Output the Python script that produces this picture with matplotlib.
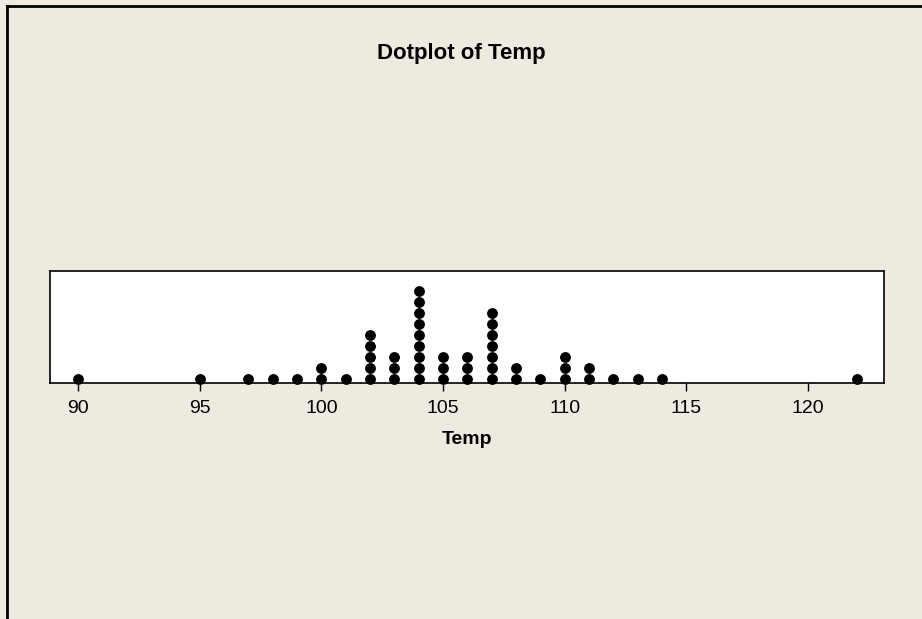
import matplotlib
matplotlib.use("Agg")
import matplotlib.pyplot as plt
from matplotlib.lines import Line2D

# -----------------------------
# Data (Temp values and how many times each occurs)
# -----------------------------
temps = [90, 95, 97, 98, 99, 100, 101, 102, 103, 104, 105,
         106, 107, 108, 109, 110, 111, 112, 113, 114, 122]
counts = [1, 1, 1, 1, 1, 2, 1, 5, 3, 9, 3,
          3, 7, 2, 1, 3, 2, 1, 1, 1, 1]
xticks = [90, 95, 100, 105, 110, 115, 120]

bg = "#EEEAE0"
plt.rcParams["font.family"] = ["Liberation Sans", "DejaVu Sans"]

fig = plt.figure(figsize=(9.22, 6.19), dpi=100, facecolor=bg)
ax = fig.add_axes([50 / 922, 1 - 383 / 619, 834 / 922, 112 / 619])
ax.set_facecolor("white")

# stack the dots
xs, ys = [], []
for t, c in zip(temps, counts):
    for k in range(c):
        xs.append(t)
        ys.append(k)
ax.scatter(xs, ys, s=46, color="black", zorder=3, clip_on=False)

ax.set_xlim(88.85, 123.12)
ax.set_ylim(-0.364, -0.364 + 112 / 11)
ax.set_xticks(xticks)
ax.set_yticks([])
ax.tick_params(axis="x", direction="out", length=6, width=1,
               labelsize=14, pad=6)
for s in ax.spines.values():
    s.set_linewidth(1.2)
ax.set_xlabel("Temp", fontsize=14, fontweight="bold", labelpad=10)

fig.text(0.5, 1 - 54 / 619, "Dotplot of Temp", ha="center", va="center",
         fontsize=16, fontweight="bold")

# outer frame (top and left edges visible)
fig.add_artist(Line2D([7 / 922, 1], [1 - 6 / 619, 1 - 6 / 619],
                      transform=fig.transFigure, color="black", lw=2))
fig.add_artist(Line2D([7 / 922, 7 / 922], [0, 1 - 6 / 619],
                      transform=fig.transFigure, color="black", lw=2))

fig.savefig("out.png", dpi=100, facecolor=bg)
